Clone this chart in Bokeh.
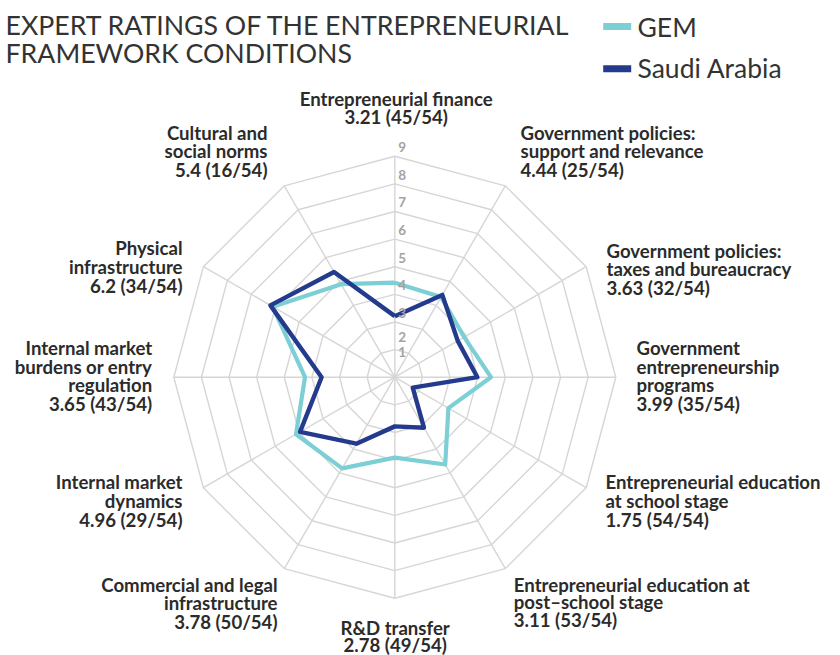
import numpy as np
from bokeh.plotting import figure
from bokeh.models import Range1d, ColumnDataSource
from bokeh.core.properties import value
from bokeh.embed import file_html
from bokeh.resources import INLINE

# ---------------- data ----------------
category_lines = [
    ["Entrepreneurial finance"],
    ["Government policies:", "support and relevance"],
    ["Government policies:", "taxes and bureaucracy"],
    ["Government", "entrepreneurship", "programs"],
    ["Entrepreneurial education", "at school stage"],
    ["Entrepreneurial education at", "post\u2013school stage"],
    ["R&D transfer"],
    ["Commercial and legal", "infrastructure"],
    ["Internal market", "dynamics"],
    ["Internal market", "burdens or entry", "regulation"],
    ["Physical", "infrastructure"],
    ["Cultural and", "social norms"],
]
saudi = [3.21, 4.44, 3.63, 3.99, 1.75, 3.11, 2.78, 3.78, 4.96, 3.65, 6.2, 5.4]
gem = [4.42, 4.35, 3.90, 4.48, 3.24, 4.65, 3.91, 4.81, 5.13, 4.25, 6.10, 4.89]
ranks = [45, 25, 32, 35, 54, 53, 49, 50, 29, 43, 34, 16]
n_economies = 54
ticks = [1, 2, 3, 4, 5, 6, 7, 8, 9]
series_names = ["GEM", "Saudi Arabia"]
title_lines = ["EXPERT RATINGS OF THE ENTREPRENEURIAL", "FRAMEWORK CONDITIONS"]

# ---------------- styling / layout ----------------
W, H = 840, 655
CX, CY = 394.3, 376.7          # page position of radar centre
R_MIN, R_MAX = ticks[0], ticks[-1]
R_PX = 221.0                   # outer radius in px
S = R_PX / (R_MAX - R_MIN)
GEM_COL = "#7ccfd5"
SA_COL = "#243a8c"
GRID_COL = "#d6d6d6"
TXT_COL = "#2b2b2b"
FONT = "Lato"
CAP = 0.36                     # half cap height (em) to convert baseline -> middle

def P(X, Y):
    return X - CX, CY - Y

n = len(saudi)
theta = np.arange(n) * 2 * np.pi / n

def radar_xy(vals):
    r = (np.asarray(vals, dtype=float) - R_MIN) * S
    x = r * np.sin(theta)
    y = r * np.cos(theta)
    return np.append(x, x[0]), np.append(y, y[0])

p = figure(width=W, height=H, output_backend="svg", toolbar_location=None,
           x_range=Range1d(-CX, W - CX), y_range=Range1d(CY - H, CY),
           x_axis_location=None, y_axis_location=None, min_border=0)
p.outline_line_color = None
p.grid.visible = False
p.background_fill_color = "white"

# grid rings
for t in ticks[1:]:
    gx, gy = radar_xy([t] * n)
    p.line(gx, gy, line_color=GRID_COL, line_width=1.4)
# spokes
ox, oy = radar_xy([R_MAX] * n)
p.segment(x0=[0] * n, y0=[0] * n, x1=list(ox[:-1]), y1=list(oy[:-1]),
          line_color=GRID_COL, line_width=1.4)

# series
gx, gy = radar_xy(gem)
p.line(gx, gy, line_color=GEM_COL, line_width=4.2, line_join="round")
sx, sy = radar_xy(saudi)
p.line(sx, sy, line_color=SA_COL, line_width=4.4, line_join="round")

# radial tick labels
tx, ty, tt = [], [], []
for t in ticks:
    r = max((t - R_MIN) * S + 9, 25 + (t - R_MIN) * 15)
    tx.append(3.5)
    ty.append(r)
    tt.append(str(t))
p.text(x=tx, y=ty, text=tt, text_font=value(FONT), text_font_style="bold",
       text_font_size="13.5px", text_color="#a3a3a3", text_align="left",
       text_baseline="middle")

# category labels (anchor page x, first baseline page y, align, line spacing)
LBL_FS = 18.6
label_layout = [
    (395.7, 105.5, "center", 17.2),
    (520.0, 139.3, "left", 18.2),
    (606.0, 256.7, "left", 18.7),
    (636.0, 354.0, "left", 18.7),
    (605.0, 488.0, "left", 19.0),
    (513.3, 590.7, "left", 17.5),
    (394.7, 634.5, "center", 16.8),
    (277.0, 591.0, "right", 18.5),
    (182.0, 488.0, "right", 19.0),
    (151.7, 354.0, "right", 18.7),
    (182.0, 254.0, "right", 19.0),
    (267.0, 139.0, "right", 18.5),
]
lx, ly, lt, la = [], [], [], []
for i in range(n):
    ax, by, al, sp = label_layout[i]
    lines = category_lines[i] + [f"{saudi[i]:g} ({ranks[i]}/{n_economies})"]
    for k, line in enumerate(lines):
        x, y = P(ax, by + k * sp - CAP * LBL_FS)
        lx.append(x); ly.append(y); lt.append(line); la.append(al)
src = ColumnDataSource(dict(x=lx, y=ly, text=lt, align=la))
p.text(x="x", y="y", text="text", text_align="align", source=src,
       text_font=value(FONT), text_font_style="bold", text_font_size=f"{LBL_FS}px",
       text_color=TXT_COL, text_baseline="middle")

# title
TITLE_FS = 26.7
for k, line in enumerate(title_lines):
    x, y = P(5.0, 34.3 + k * 27.4 - CAP * TITLE_FS)
    p.text(x=[x], y=[y], text=[line], text_font=value(FONT), text_font_size=f"{TITLE_FS}px",
           text_color="#333333", text_baseline="middle", text_align="left")

# legend
LEG_FS = 26.5
for k, (name, col) in enumerate(zip(series_names, [GEM_COL, SA_COL])):
    x, y = P(616.7, 26.0 + k * 42.3)
    p.rect(x=[x], y=[y], width=28, height=7, fill_color=col, line_color=None)
    tx2, ty2 = P(637.0, 36.0 + k * 41.3 - CAP * LEG_FS)
    p.text(x=[tx2], y=[ty2], text=[name], text_font=value(FONT), text_font_size=f"{LEG_FS}px",
           text_color="#333333", text_baseline="middle", text_align="left")

open("out.html", "w").write(file_html(p, INLINE))
